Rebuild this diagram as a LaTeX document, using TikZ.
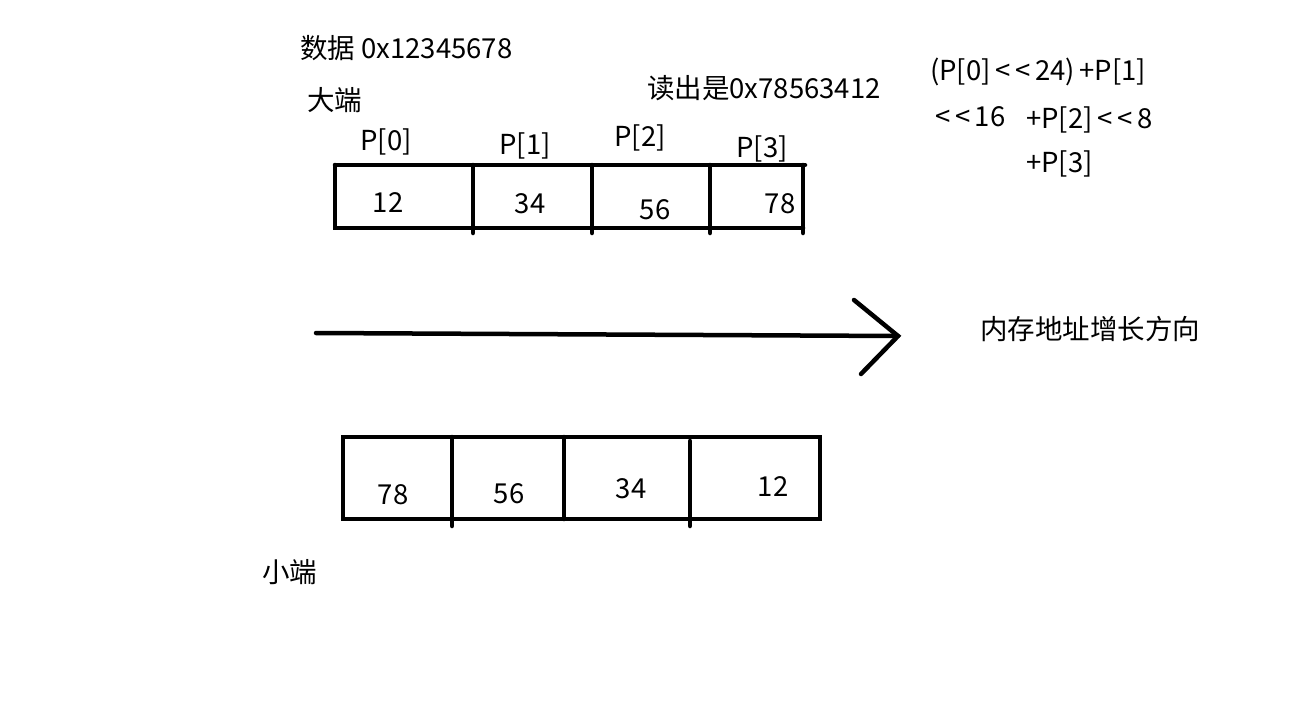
\documentclass[tikz,border=0pt]{standalone}
\usepackage{fontspec}
\setmainfont{Noto Sans CJK SC}
\begin{document}
\begin{tikzpicture}[x=1pt,y=-1pt,
  lbl/.style={anchor=west,inner sep=0pt,font=\fontsize{27.5}{32}\selectfont},
  num/.style={inner sep=0pt,font=\fontsize{27.5}{32}\selectfont},
  lt/.style={xscale=1.25},
  thick line/.style={line width=4.5pt,line cap=round,line join=miter}]
\useasboundingbox[fill=white] (0,0) rectangle (1312,704);
% top (big endian) box
\draw[thick line] (335,165) -- (805,165);
\draw[thick line] (335,165) -- (335,228) -- (803,228);
\draw[thick line] (473,165) -- (473,233);
\draw[thick line] (592,165) -- (592,233);
\draw[thick line] (710,165) -- (710,233);
\draw[thick line] (803,165) -- (803,233);
\node[num] (t0) at (388,203) {12};
\node[num] (t1) at (530,204) {34};
\node[num] (t2) at (655,210) {56};
\node[num] (t3) at (780,204) {78};
\node[num] (p0) at (386,142) {P[0]};
\node[num] (p1) at (525,146) {P[1]};
\node[num] (p2) at (640,138) {P[2]};
\node[num] (p3) at (762,149) {P[3]};
% arrow
\coordinate (a0) at (316,333);
\coordinate (a1) at (898,336);
\coordinate (h1) at (854,300);
\coordinate (h2) at (861,374);
\draw[thick line] (a0) -- (a1);
\draw[thick line] (h1) -- (a1) -- (h2);
% bottom (little endian) box
\draw[thick line] (343,437) rectangle (820,519);
\draw[thick line] (452,437) -- (452,526);
\draw[thick line] (564,437) -- (564,519);
\draw[thick line] (690,441) -- (690,526);
\node[num] (b0) at (393,495) {78};
\node[num] (b1) at (509,494) {56};
\node[num] (b2) at (631,489) {34};
\node[num] (b3) at (773,487) {12};
% texts
\node[lbl] (data) at (300,48) {数据 0x12345678};
\node[lbl] (big) at (307,100) {大端};
\node[lbl] (read) at (647,88) {读出是0x78563412};
\node[lbl] (f1) at (930,72) {(P[0]\,{<}\,{<}\,24)\,+P[1]};
\node[lbl] (f2) at (935,117) {{<}\,{<}\,16};
\node[lbl] (f3) at (1026,120) {+P[2]\,{<}\,{<}\,8};
\node[lbl] (f4) at (1026,164) {+P[3]};
\node[lbl] (dir) at (980,329) {内存地址增长方向};
\node[lbl] (small) at (262,572) {小端};
\end{tikzpicture}
\end{document}
